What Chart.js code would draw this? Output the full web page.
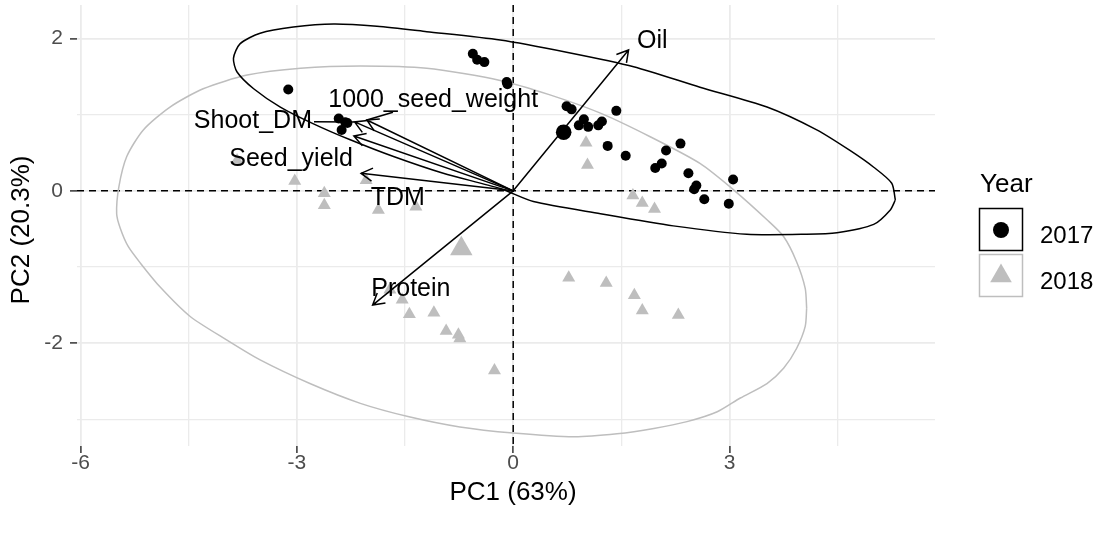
<!DOCTYPE html>
<html>
<head>
<meta charset="utf-8">
<script src="https://cdn.jsdelivr.net/npm/chart.js@4.4.1/dist/chart.umd.min.js"></script>
<style>
  body { margin: 0; background: #ffffff; }
  #wrap { width: 1098px; height: 535px; }
</style>
</head>
<body>
<div id="wrap"><canvas id="biplot" width="1098" height="535"></canvas></div>
<script>
// --- data ---
var years = ["2017", "2018"];

var pc1_2017 = [-3.12, -2.42, -2.33, -2.38, -2.30, -0.56, -0.50, -0.40, -0.09, -0.08, 0.74, 0.81, 0.68,
    0.91, 0.98, 1.04, 1.18, 1.23, 1.43, 1.31, 1.56, 1.97, 2.06, 2.12, 2.32, 2.43, 2.54, 2.51, 2.65, 3.05, 2.99];
var pc2_2017 = [1.33, 0.95, 0.90, 0.80, 0.89, 1.80, 1.72, 1.69, 1.43, 1.40, 1.11, 1.07, 0.80,
    0.86, 0.94, 0.84, 0.86, 0.91, 1.05, 0.59, 0.46, 0.30, 0.36, 0.53, 0.62, 0.23, 0.07, 0.02, -0.11, 0.15, -0.17];

var pc1_2018 = [-3.83, -3.03, -2.62, -2.62, -2.04, -1.87, -1.35, 1.01, 1.03, 1.66, 1.79, 1.96,
    -1.71, -1.54, -1.44, -1.10, -0.93, -0.76, -0.74, -0.26, 0.77, 1.29, 1.68, 1.79, 2.29];
var pc2_2018 = [0.40, 0.13, -0.03, -0.19, 0.14, -0.25, -0.21, 0.63, 0.34, -0.06, -0.16, -0.24,
    -1.30, -1.43, -1.62, -1.60, -1.84, -1.89, -1.94, -2.36, -1.14, -1.21, -1.37, -1.57, -1.63];

// group means (big markers)
var meanPC1 = [0.70, -0.72];
var meanPC2 = [0.77, -0.76];

// ellipse outlines
var ell2017x = [5.30, 5.25, 5.00, 4.67, 4.21, 3.52, 2.59, 1.67, 0.74, -0.18, -1.20, -1.89, -2.49, -3.05, -3.51,
    -3.79, -3.88, -3.83, -3.60, -3.23, -2.77, -2.26, -1.66, -0.97, -0.18, 0.28, 1.21, 2.22, 3.24, 4.07, 4.49, 5.00, 5.23, 5.30];
var ell2017y = [-0.12, 0.10, 0.31, 0.53, 0.80, 1.10, 1.36, 1.63, 1.82, 1.98, 2.09, 2.16, 2.19, 2.15, 2.07,
    1.93, 1.74, 1.56, 1.34, 1.10, 0.88, 0.67, 0.45, 0.23, 0.03, -0.14, -0.30, -0.46, -0.57, -0.57, -0.55, -0.44, -0.25, -0.12];
var ell2018x = [4.07, 4.05, 3.93, 3.75, 3.52, 3.06, 2.59, 1.90, 1.21, 0.51, -0.18, -1.20, -2.12, -2.95, -3.69,
    -4.30, -4.76, -5.13, -5.36, -5.47, -5.50, -5.45, -5.34, -5.17, -4.90, -4.48, -3.97, -3.51, -2.82, -2.12,
    -1.43, -0.74, 0.00, 0.84, 1.44, 1.95, 2.41, 2.83, 3.15, 3.52, 3.75, 3.93, 4.05, 4.07];
var ell2018y = [-1.54, -1.28, -0.93, -0.60, -0.38, 0.01, 0.36, 0.71, 1.02, 1.26, 1.45, 1.61, 1.64, 1.61, 1.52,
    1.34, 1.10, 0.80, 0.45, 0.05, -0.30, -0.49, -0.73, -0.95, -1.26, -1.65, -1.96, -2.22, -2.53, -2.79,
    -2.97, -3.10, -3.18, -3.23, -3.19, -3.12, -3.03, -2.90, -2.72, -2.53, -2.33, -2.07, -1.78, -1.54];

// variable loadings (arrow tips) and where their labels sit
var varNames = ["Oil", "1000_seed_weight", "Shoot_DM", "Seed_yield", "TDM", "Protein"];
var varPC1 = [1.60, -2.03, -2.20, -2.21, -2.11, -1.95];
var varPC2 = [1.85, 0.93, 0.905, 0.72, 0.23, -1.50];
var labelPC1 = [1.93, -1.11, -3.61, -3.08, -1.60, -1.42];
var labelPC2 = [1.96, 1.19, 0.91, 0.42, -0.10, -1.29];
var labelLeader = [false, true, true, false, false, false];

// axis ticks
var xGrid = [-6, -4.5, -3, -1.5, 0, 1.5, 3, 4.5];
var xLabels = [-6, -3, 0, 3];
var yGrid = [-3, -2, -1, 0, 1, 2];
var yLabels = [-2, 0, 2];
var xTitle = "PC1 (63%)";
var yTitle = "PC2 (20.3%)";

var FONT = "'Liberation Sans', Arial, Helvetica, sans-serif";
var GREY = "#BEBEBE";

function pairs(xs, ys) {
    return xs.map(function (x, i) { return { x: x, y: ys[i] }; });
}

// dashed zero lines, under the marks
var zeroLines = {
    id: 'zeroLines',
    beforeDatasetsDraw: function (chart) {
        var ctx = chart.ctx, a = chart.chartArea;
        var x0 = chart.scales.x.getPixelForValue(0);
        var y0 = chart.scales.y.getPixelForValue(0);
        ctx.save();
        ctx.strokeStyle = "#000000";
        ctx.lineWidth = 1.5;
        ctx.setLineDash([7, 5]);
        ctx.beginPath();
        ctx.moveTo(a.left, y0); ctx.lineTo(a.right, y0);
        ctx.moveTo(x0, a.top); ctx.lineTo(x0, a.bottom);
        ctx.stroke();
        ctx.restore();
    }
};

// loading arrows and their labels
var arrows = {
    id: 'arrows',
    afterDatasetsDraw: function (chart) {
        var ctx = chart.ctx, sx = chart.scales.x, sy = chart.scales.y;
        var ox = sx.getPixelForValue(0), oy = sy.getPixelForValue(0);
        ctx.save();
        ctx.strokeStyle = "#000000";
        ctx.lineWidth = 1.5;
        ctx.setLineDash([]);
        varNames.forEach(function (name, i) {
            var tx = sx.getPixelForValue(varPC1[i]), ty = sy.getPixelForValue(varPC2[i]);
            var ang = Math.atan2(ty - oy, tx - ox);
            ctx.beginPath();
            ctx.moveTo(ox, oy);
            ctx.lineTo(tx, ty);
            ctx.moveTo(tx - 13 * Math.cos(ang - Math.PI / 6), ty - 13 * Math.sin(ang - Math.PI / 6));
            ctx.lineTo(tx, ty);
            ctx.lineTo(tx - 13 * Math.cos(ang + Math.PI / 6), ty - 13 * Math.sin(ang + Math.PI / 6));
            ctx.stroke();
        });

        ctx.font = "25px " + FONT;
        ctx.textAlign = "center";
        ctx.textBaseline = "middle";
        ctx.fillStyle = "#000000";
        varNames.forEach(function (name, i) {
            var lx = sx.getPixelForValue(labelPC1[i]), ly = sy.getPixelForValue(labelPC2[i]);
            if (labelLeader[i]) {
                // segment from the label box to its arrow tip (as ggrepel does)
                var tx = sx.getPixelForValue(varPC1[i]), ty = sy.getPixelForValue(varPC2[i]);
                var hw = ctx.measureText(name).width / 2 + 2, hh = 12;
                var dx = tx - lx, dy = ty - ly;
                var t = Math.min(dx !== 0 ? hw / Math.abs(dx) : 1e9, dy !== 0 ? hh / Math.abs(dy) : 1e9);
                ctx.beginPath();
                ctx.moveTo(lx + dx * t, ly + dy * t);
                ctx.lineTo(tx, ty);
                ctx.stroke();
            }
            ctx.fillText(name, lx, ly);
        });
        ctx.restore();
    }
};

// axis titles and the boxed legend on the right
var titlesAndLegend = {
    id: 'titlesAndLegend',
    afterDraw: function (chart) {
        var ctx = chart.ctx;
        ctx.save();
        ctx.fillStyle = "#000000";
        ctx.font = "26px " + FONT;
        ctx.textAlign = "center";
        ctx.textBaseline = "middle";
        ctx.fillText(xTitle, 513, 493);
        ctx.save();
        ctx.translate(22, 230);
        ctx.rotate(-Math.PI / 2);
        ctx.fillText(yTitle, 0, 0);
        ctx.restore();

        ctx.textAlign = "left";
        ctx.textBaseline = "alphabetic";
        ctx.fillText("Year", 980, 192);

        var colors = ["#000000", GREY];
        years.forEach(function (yr, i) {
            var top = 208 + i * 46;
            ctx.strokeStyle = colors[i];
            ctx.lineWidth = 1.5;
            ctx.strokeRect(979.5, top + 0.5, 43, 42);
            ctx.fillStyle = colors[i];
            var cx = 1001, cy = top + 22;
            ctx.beginPath();
            if (i === 0) {
                ctx.arc(cx, cy, 8, 0, Math.PI * 2);
            } else {
                var r = 12.5;
                ctx.moveTo(cx, cy - r);
                ctx.lineTo(cx + r * Math.sin(2 * Math.PI / 3), cy - r * Math.cos(2 * Math.PI / 3));
                ctx.lineTo(cx + r * Math.sin(4 * Math.PI / 3), cy - r * Math.cos(4 * Math.PI / 3));
                ctx.closePath();
            }
            ctx.fill();
            ctx.fillStyle = "#000000";
            ctx.font = "24px " + FONT;
            ctx.fillText(yr, 1040, top + 35);
        });
        ctx.restore();
    }
};

function gridWidth(list) {
    return function (c) { return list.indexOf(c.tick.value) >= 0 ? 1.8 : 1.3; };
}
function tickColor(list) {
    return function (c) { return list.indexOf(c.tick.value) >= 0 ? "#333333" : "rgba(0,0,0,0)"; };
}

new Chart(document.getElementById("biplot"), {
    type: 'scatter',
    data: {
        datasets: [
            {
                label: "ellipse 2017",
                data: pairs(ell2017x, ell2017y),
                showLine: true, pointRadius: 0, borderColor: "#000000", borderWidth: 1.5,
                tension: 0.25, fill: false, order: 3
            },
            {
                label: "ellipse 2018",
                data: pairs(ell2018x, ell2018y),
                showLine: true, pointRadius: 0, borderColor: GREY, borderWidth: 1.5,
                tension: 0.25, fill: false, order: 3
            },
            {
                label: years[1],
                data: pairs(pc1_2018, pc2_2018),
                pointStyle: 'triangle', pointRadius: 7.5, pointBorderWidth: 0,
                backgroundColor: GREY, borderColor: GREY, order: 2
            },
            {
                label: years[0],
                data: pairs(pc1_2017, pc2_2017),
                pointStyle: 'circle', pointRadius: 5, pointBorderWidth: 0,
                backgroundColor: "#000000", borderColor: "#000000", order: 1
            },
            {
                label: "mean 2018",
                data: [{ x: meanPC1[1], y: meanPC2[1] }],
                pointStyle: 'triangle', pointRadius: 13, pointBorderWidth: 0,
                backgroundColor: GREY, borderColor: GREY, order: 1
            },
            {
                label: "mean 2017",
                data: [{ x: meanPC1[0], y: meanPC2[0] }],
                pointStyle: 'circle', pointRadius: 7.8, pointBorderWidth: 0,
                backgroundColor: "#000000", borderColor: "#000000", order: 0
            }
        ]
    },
    options: {
        responsive: false,
        animation: false,
        events: [],
        layout: { autoPadding: false, padding: { left: 0, right: 163, top: 5, bottom: 0 } },
        plugins: {
            legend: { display: false },
            tooltip: { enabled: false }
        },
        scales: {
            x: {
                type: 'linear',
                min: -6.05,
                max: 5.85,
                afterBuildTicks: function (axis) {
                    axis.ticks = xGrid.map(function (v) { return { value: v }; });
                },
                afterFit: function (scale) {
                    scale.height = 89;
                    scale.paddingLeft = 0;
                    scale.paddingRight = 0;
                },
                border: { display: false },
                grid: {
                    color: "#EBEBEB",
                    lineWidth: gridWidth(xLabels),
                    tickColor: tickColor(xLabels),
                    tickLength: 7,
                    tickWidth: 1.5
                },
                ticks: {
                    autoSkip: false,
                    maxRotation: 0,
                    padding: 0,
                    color: "#4D4D4D",
                    font: { family: FONT, size: 21, lineHeight: 1 },
                    callback: function (v) { return xLabels.indexOf(v) >= 0 ? String(v) : ''; }
                }
            },
            y: {
                type: 'linear',
                min: -3.35,
                max: 2.44,
                afterBuildTicks: function (axis) {
                    axis.ticks = yGrid.map(function (v) { return { value: v }; });
                },
                afterFit: function (scale) {
                    scale.width = 77;
                    scale.paddingTop = 0;
                    scale.paddingBottom = 0;
                },
                border: { display: false },
                grid: {
                    color: "#EBEBEB",
                    lineWidth: gridWidth(yLabels),
                    tickColor: tickColor(yLabels),
                    tickLength: 7,
                    tickWidth: 1.5
                },
                ticks: {
                    autoSkip: false,
                    padding: 7,
                    color: "#4D4D4D",
                    font: { family: FONT, size: 21 },
                    callback: function (v) { return yLabels.indexOf(v) >= 0 ? String(v) : ''; }
                }
            }
        }
    },
    plugins: [zeroLines, arrows, titlesAndLegend]
});
</script>
</body>
</html>
